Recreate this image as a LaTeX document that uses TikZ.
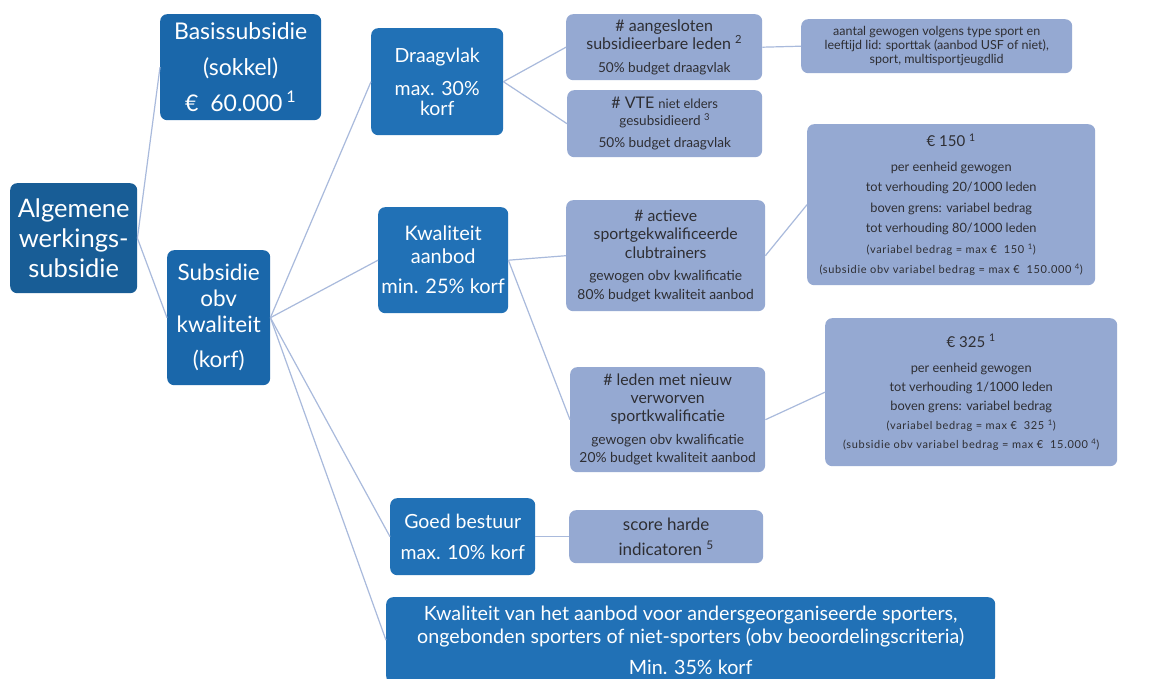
\documentclass[tikz,border=0pt]{standalone}
\usepackage{fontspec}
\setmainfont{Lato}
\definecolor{cAlg}{HTML}{185D96}
\definecolor{cBas}{HTML}{1A67AA}
\definecolor{cMid}{HTML}{2171B6}
\definecolor{lightbox}{HTML}{95A9D2}
\definecolor{ltext}{HTML}{2E2E33}
\definecolor{linec}{HTML}{A9BADC}
\newcommand{\sz}[2]{\fontsize{#1}{#2}\selectfont}
\newcommand{\tinyline}[1]{{\fontsize{11}{20}\selectfont\addfontfeatures{LetterSpace=6}#1}}
\begin{document}
\begin{tikzpicture}[x=1pt,y=-1pt,
  dk/.style={anchor=north west, inner sep=0pt, rounded corners=7pt, align=center, text=white},
  lt/.style={anchor=north west, inner sep=0pt, rounded corners=7pt, align=center, fill=lightbox, text=ltext},
  link/.style={draw=linec, line width=1.2pt}]
\fill[white] (0,0) rectangle (1154,679);
\useasboundingbox (0,0) rectangle (1154,679);
\clip (0,0) rectangle (1154,679);

% dark boxes
\node[dk, fill=cAlg, minimum width=127pt, minimum height=110pt, font=\sz{25.5}{30}] (alg) at (10,183) {Algemene\\werkings-\\subsidie};
\node[dk, fill=cBas, minimum width=161pt, minimum height=106pt, font=\sz{23}{36}] (basis) at (160,14) {Basissubsidie\\(sokkel)\\€\ \ 60.000\,\textsuperscript{1}};
\node[dk, fill=cBas, minimum width=103pt, minimum height=135pt, font=\sz{22.5}{26}] (sub) at (167,250) {Subsidie\\obv\\kwaliteit\\[9pt](korf)};
\node[dk, fill=cMid, minimum width=132pt, minimum height=107pt, font=\sz{19.5}{20.5}] (drg) at (371,28) {Draagvlak\\[12.5pt]max. 30\%\\korf};
\node[dk, fill=cMid, minimum width=130pt, minimum height=106pt, font=\sz{20}{23}] (kw) at (378,207) {Kwaliteit\\aanbod\\[7pt]min. 25\% korf};
\node[dk, fill=cMid, minimum width=145pt, minimum height=77pt, font=\sz{19.5}{31}] (gb) at (390,498) {Goed bestuur\\max. 10\% korf};
\node[dk, fill=cMid, minimum width=609pt, minimum height=86pt, font=\sz{19.7}{23}] (bot) at (386,597) {Kwaliteit van het aanbod voor andersgeorganiseerde sporters,\\ongebonden sporters of niet-sporters (obv beoordelingscriteria)\\[8pt]Min. 35\% korf};

% light boxes
\node[lt, minimum width=196pt, minimum height=66pt, font=\sz{16}{18}] (aang) at (566,14) {\# aangesloten\\subsidieerbare leden \textsuperscript{2}\\[5pt]{\sz{13.6}{15}50\% budget draagvlak}};
\node[lt, minimum width=195pt, minimum height=67pt, font=\sz{16}{17}] (vte) at (567,90) {\# VTE {\sz{13}{13}niet elders}\\{\sz{13.5}{14}gesubsidieerd \textsuperscript{3}}\\[5pt]{\sz{13.6}{15}50\% budget draagvlak}};
\node[lt, minimum width=271pt, minimum height=54pt, font=\sz{12.5}{14}] (aantal) at (801,19) {aantal gewogen volgens type sport en\\leeftijd lid: sporttak (aanbod USF of niet),\\sport, multisportjeugdlid};
\node[lt, minimum width=199pt, minimum height=111pt, font=\sz{15.8}{18.5}] (act) at (566,200) {\# actieve\\sportgekwalificeerde\\clubtrainers\\[4pt]{\sz{13.8}{21.5}gewogen obv kwalificatie}\\{\sz{13.8}{21.5}80\% budget kwaliteit aanbod}};
\node[lt, minimum width=195pt, minimum height=105pt, font=\sz{15.8}{18}] (led) at (570,367) {\# leden met nieuw\\verworven\\sportkwalificatie\\[5pt]{\sz{13.8}{21}gewogen obv kwalificatie}\\{\sz{13.8}{21}20\% budget kwaliteit aanbod}};
\node[lt, minimum width=194pt, minimum height=53pt, font=\sz{17}{25}] (score) at (569,510) {score harde\\indicatoren \textsuperscript{5}};
\node[lt, minimum width=288pt, minimum height=161pt, font=\sz{12.8}{20.5}] (e150) at (807,124) {{\sz{15}{21}€ 150 \textsuperscript{1}}\\[4pt]per eenheid gewogen\\tot verhouding 20/1000 leden\\boven grens: variabel bedrag\\tot verhouding 80/1000 leden\\\tinyline{(variabel bedrag = max € \ 150 \textsuperscript{1})}\\\tinyline{(subsidie obv variabel bedrag = max € \ 150.000 \textsuperscript{4})}};
\node[lt, minimum width=292pt, minimum height=148pt, font=\sz{12.8}{19}] (e325) at (825,318) {{\sz{15}{21}€ 325 \textsuperscript{1}}\\[6pt]per eenheid gewogen\\tot verhouding 1/1000 leden\\boven grens: variabel bedrag\\\tinyline{(variabel bedrag = max € \ 325 \textsuperscript{1})}\\\tinyline{(subsidie obv variabel bedrag = max € \ 15.000 \textsuperscript{4})}};

% connectors
\draw[link] (alg.east) -- (basis.west);
\draw[link] (alg.east) -- (sub.west);
\draw[link] (sub.east) -- (drg.west);
\draw[link] (sub.east) -- (kw.west);
\draw[link] (sub.east) -- (gb.west);
\draw[link] (sub.east) -- (bot.west);
\draw[link] (drg.east) -- (aang.west);
\draw[link] (drg.east) -- (vte.west);
\draw[link] (aang.east) -- (aantal.west);
\draw[link] (kw.east) -- (act.west);
\draw[link] (kw.east) -- (led.west);
\draw[link] (act.east) -- (e150.west);
\draw[link] (led.east) -- (e325.west);
\draw[link] (gb.east) -- (score.west);
\end{tikzpicture}
\end{document}
